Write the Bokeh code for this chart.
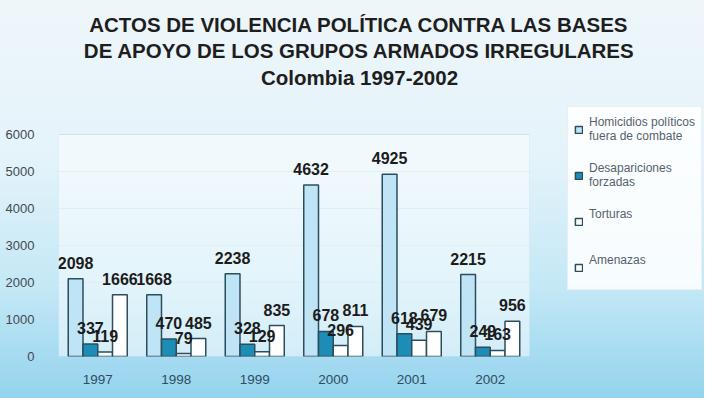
from bokeh.plotting import figure
from bokeh.models import (ColumnDataSource, Legend, LegendItem, Label, BoxAnnotation,
                          FixedTicker, Range1d)
from bokeh.transform import dodge
from bokeh.core.properties import value
from bokeh.embed import file_html
from bokeh.resources import INLINE

years = ["1997", "1998", "1999", "2000", "2001", "2002"]
homicidios = [2098, 1668, 2238, 4632, 4925, 2215]
desapariciones = [337, 470, 328, 678, 618, 249]
torturas = [119, 79, 129, 296, 439, 163]
amenazas = [1666, 485, 835, 811, 679, 956]
series_names = ["Homicidios políticos\nfuera de combate", "Desapariciones\nforzadas", "Torturas\n ", "Amenazas\n "]
y_ticks = [0, 1000, 2000, 3000, 4000, 5000, 6000]
title_lines = ["ACTOS DE VIOLENCIA POLÍTICA CONTRA LAS BASES",
               "DE APOYO DE LOS GRUPOS ARMADOS IRREGULARES",
               "Colombia 1997-2002"]

FONT = "Liberation Sans"
W_FIG, H_FIG = 704, 398
LEFT, BOTTOM = 58, 42
CAT_PX = 78.5                      # pixel width of one year category
YMAX = y_ticks[-1]
PLOT_H_PX = 222                    # pixel height of the 0..6000 plot area

xi = list(range(len(years)))
src = ColumnDataSource(dict(
    xi=xi, hom=homicidios, des=desapariciones, tor=torturas, ame=amenazas,
    hom_t=[str(v) for v in homicidios], des_t=[str(v) for v in desapariciones],
    tor_t=[str(v) for v in torturas], ame_t=[str(v) for v in amenazas],
))

frame_w = W_FIG - LEFT
frame_h = H_FIG - BOTTOM
x_start = xi[0] - 0.5
x_end = x_start + frame_w / CAT_PX
y_end = YMAX * frame_h / PLOT_H_PX

p = figure(width=W_FIG, height=H_FIG, x_range=Range1d(x_start, x_end), y_range=Range1d(0, y_end),
           output_backend="svg", toolbar_location=None,
           min_border_left=LEFT, min_border_right=0, min_border_top=0, min_border_bottom=BOTTOM)
p.styles = {"background-image": "linear-gradient(to bottom, #eef6fa 0%, #e4f3fa 40%, #c4e8f6 72%, #94d3ee 100%)"}
p.border_fill_alpha = 0
p.background_fill_alpha = 0
p.outline_line_color = None

# plot area (0..6000, all years)
p.add_layout(BoxAnnotation(left=x_start, right=xi[-1] + 0.5, bottom=0, top=YMAX,
                           fill_color="white", fill_alpha=0.5,
                           line_color="#c9dde7", line_width=1, level="underlay"))

p.xgrid.grid_line_color = None
p.ygrid.grid_line_color = "#c5dbe6"
p.ygrid.bounds = (0, YMAX)
p.ygrid.cross_bounds = (x_start, xi[-1] + 0.5)
p.yaxis.ticker = FixedTicker(ticks=y_ticks)
p.xaxis.ticker = FixedTicker(ticks=xi)
p.xaxis.major_label_overrides = {i: y for i, y in zip(xi, years)}
p.yaxis.axis_line_color = None
p.xaxis.axis_line_color = None
p.yaxis.major_tick_line_color = None
p.xaxis.major_tick_line_color = None
p.yaxis.minor_tick_line_color = None
p.xaxis.minor_tick_line_color = None
p.yaxis.major_label_standoff = 18
p.xaxis.major_label_standoff = 12
p.yaxis.major_label_text_font = FONT
p.xaxis.major_label_text_font = FONT
p.yaxis.major_label_text_font_size = "13px"
p.xaxis.major_label_text_font_size = "13.5px"
p.yaxis.major_label_text_color = "#44494f"
p.xaxis.major_label_text_color = "#2f4d62"

W = 0.188
offs = [-0.282, -0.094, 0.094, 0.282]
cols = ["hom", "des", "tor", "ame"]
fills = ["#bfe4f6", "#1d8db5", "#ffffff", "#ffffff"]
line_c = "#2c4d5c"
renderers = []
for c, off, f in zip(cols, offs, fills):
    r = p.vbar(x=dodge("xi", off), top=c, width=W, source=src,
               fill_color=f, line_color=line_c, line_width=1.5)
    renderers.append(r)
for c, off in zip(cols, offs):
    p.text(x=dodge("xi", off), y=c, text=c + "_t", source=src,
           text_align="center", text_baseline="bottom", y_offset=-10,
           text_font=value(FONT), text_font_style="bold", text_font_size="16px",
           text_color="#1c1c1c")

legend = Legend(items=[LegendItem(label=n, renderers=[r]) for n, r in zip(series_names, renderers)],
                location=(509, 66), orientation="vertical",
                glyph_width=9, glyph_height=9, label_text_font=FONT, label_text_font_size="12px",
                label_text_color="#56636d", label_height=32, spacing=14, label_standoff=6,
                background_fill_color="white", background_fill_alpha=0.85,
                border_line_color="#d5e2e8", padding=6, margin=0)
p.add_layout(legend, "center")

title_y = [332.5, 306.5, 279.5]   # px above the frame bottom
for t, ty in zip(title_lines, title_y):
    p.add_layout(Label(x=301, y=ty, x_units="screen", y_units="screen",
                       text=t, text_align="center", text_baseline="middle",
                       text_font=FONT, text_font_style="bold", text_font_size="20.5px",
                       text_color="#1e1e1e"))

open("out.html", "w").write(file_html(p, INLINE))
